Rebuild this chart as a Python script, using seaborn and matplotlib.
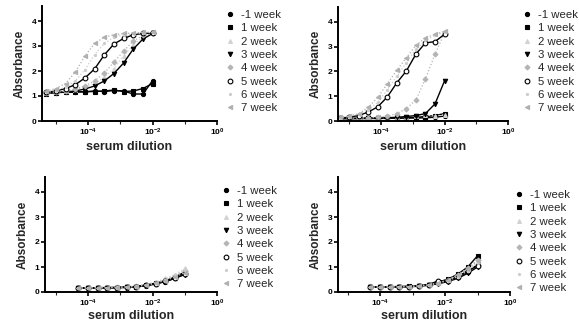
import matplotlib
matplotlib.use("Agg")
import matplotlib.pyplot as plt
from matplotlib.lines import Line2D
from matplotlib.ticker import FixedLocator, LogLocator, NullFormatter
import seaborn as sns

weeks = ["-1 week", "1 week", "2 week", "3 week", "4 week", "5 week", "6 week", "7 week"]

# two-fold serial dilutions
dil_top = [1e-2, 5e-3, 2.5e-3, 1.25e-3, 6.25e-4, 3.125e-4, 1.5625e-4,
           7.8125e-5, 3.906e-5, 1.953e-5, 9.766e-6, 4.883e-6]
dil_bottom = [1e-1, 5e-2, 2.5e-2, 1.25e-2, 6.25e-3, 3.125e-3, 1.5625e-3,
              7.8125e-4, 3.906e-4, 1.953e-4, 9.766e-5, 4.883e-5]

top_left = {
    "-1 week": [1.62, 1.08, 1.08, 1.2, 1.22, 1.18, 1.2, 1.17, 1.16, 1.15, 1.14, 1.12],
    "1 week":  [1.5, 1.3, 1.2, 1.18, 1.24, 1.2, 1.18, 1.17, 1.16, 1.15, 1.14, 1.1],
    "2 week":  [3.5, 3.35, 3.05, 2.6, 2.1, 1.75, 1.5, 1.35, 1.25, 1.2, 1.15, 1.12],
    "3 week":  [3.5, 3.28, 2.88, 2.32, 1.9, 1.6, 1.4, 1.28, 1.2, 1.16, 1.14, 1.12],
    "4 week":  [3.52, 3.42, 3.2, 2.8, 2.35, 1.92, 1.6, 1.4, 1.28, 1.2, 1.15, 1.12],
    "5 week":  [3.52, 3.5, 3.45, 3.3, 3.08, 2.64, 2.08, 1.72, 1.45, 1.3, 1.2, 1.15],
    "6 week":  [3.55, 3.52, 3.5, 3.45, 3.35, 3.1, 2.65, 2.05, 1.6, 1.35, 1.22, 1.15],
    "7 week":  [3.55, 3.55, 3.52, 3.5, 3.45, 3.35, 3.1, 2.6, 1.95, 1.5, 1.3, 1.2],
}
top_right = {
    "-1 week": [0.2, 0.15, 0.13, 0.12, 0.12, 0.11, 0.11, 0.1, 0.1, 0.1, 0.1, 0.1],
    "1 week":  [0.3, 0.22, 0.18, 0.15, 0.13, 0.12, 0.12, 0.11, 0.11, 0.1, 0.1, 0.1],
    "2 week":  [0.25, 0.2, 0.25, 0.2, 0.18, 0.15, 0.13, 0.12, 0.12, 0.11, 0.1, 0.1],
    "3 week":  [1.62, 0.69, 0.3, 0.22, 0.18, 0.15, 0.13, 0.12, 0.12, 0.11, 0.1, 0.1],
    "4 week":  [3.55, 2.7, 1.7, 0.85, 0.5, 0.3, 0.2, 0.15, 0.13, 0.12, 0.11, 0.1],
    "5 week":  [3.5, 3.2, 3.15, 2.7, 2.02, 1.54, 0.97, 0.57, 0.36, 0.22, 0.15, 0.12],
    "6 week":  [3.58, 3.45, 3.25, 2.9, 2.35, 1.8, 1.25, 0.75, 0.45, 0.28, 0.18, 0.14],
    "7 week":  [3.62, 3.5, 3.35, 3.05, 2.55, 2.05, 1.5, 0.95, 0.55, 0.3, 0.2, 0.15],
}
bottom_left = {
    "-1 week": [0.75, 0.55, 0.42, 0.32, 0.25, 0.2, 0.18, 0.17, 0.17, 0.16, 0.16, 0.15],
    "1 week":  [0.8, 0.6, 0.45, 0.35, 0.28, 0.22, 0.2, 0.18, 0.17, 0.17, 0.16, 0.16],
    "2 week":  [0.95, 0.7, 0.55, 0.4, 0.3, 0.24, 0.2, 0.18, 0.18, 0.17, 0.16, 0.16],
    "3 week":  [0.7, 0.55, 0.42, 0.33, 0.26, 0.21, 0.19, 0.18, 0.17, 0.16, 0.16, 0.15],
    "4 week":  [0.85, 0.65, 0.5, 0.38, 0.3, 0.24, 0.2, 0.19, 0.18, 0.17, 0.17, 0.16],
    "5 week":  [0.72, 0.56, 0.44, 0.34, 0.27, 0.22, 0.2, 0.18, 0.18, 0.17, 0.16, 0.16],
    "6 week":  [0.9, 0.68, 0.5, 0.37, 0.28, 0.23, 0.2, 0.19, 0.18, 0.17, 0.17, 0.16],
    "7 week":  [0.78, 0.6, 0.46, 0.35, 0.27, 0.22, 0.2, 0.18, 0.17, 0.17, 0.16, 0.16],
}
bottom_right = {
    "-1 week": [1.1, 0.8, 0.6, 0.45, 0.35, 0.28, 0.24, 0.22, 0.21, 0.2, 0.2, 0.2],
    "1 week":  [1.45, 1.0, 0.72, 0.52, 0.4, 0.3, 0.25, 0.23, 0.22, 0.21, 0.2, 0.2],
    "2 week":  [1.2, 0.9, 0.65, 0.48, 0.36, 0.28, 0.24, 0.22, 0.21, 0.2, 0.2, 0.2],
    "3 week":  [1.0, 0.75, 0.55, 0.42, 0.33, 0.27, 0.23, 0.21, 0.2, 0.2, 0.19, 0.19],
    "4 week":  [1.3, 0.95, 0.7, 0.5, 0.38, 0.3, 0.25, 0.22, 0.21, 0.2, 0.2, 0.2],
    "5 week":  [1.05, 0.85, 0.62, 0.45, 0.45, 0.3, 0.25, 0.22, 0.21, 0.2, 0.2, 0.2],
    "6 week":  [1.15, 0.85, 0.62, 0.46, 0.35, 0.28, 0.24, 0.22, 0.21, 0.2, 0.2, 0.2],
    "7 week":  [1.25, 0.92, 0.68, 0.5, 0.37, 0.29, 0.25, 0.22, 0.21, 0.2, 0.2, 0.2],
}

x_ticks = [1e-4, 1e-2, 1e0]
x_tick_labels = [r"$\mathbf{10^{-4}}$", r"$\mathbf{10^{-2}}$", r"$\mathbf{10^{0}}$"]
y_ticks = [0, 1, 2, 3, 4]

colors = {"-1 week": "black", "1 week": "black", "2 week": "#d2d2d2", "3 week": "black",
          "4 week": "#b4b4b4", "5 week": "black", "6 week": "#cdcdcd", "7 week": "#b0b0b0"}
markers = {"-1 week": "o", "1 week": "s", "2 week": "^", "3 week": "v",
           "4 week": "D", "5 week": "o", "6 week": ".", "7 week": "<"}
msizes = {"-1 week": 3.0, "1 week": 2.8, "2 week": 2.8, "3 week": 3.2,
          "4 week": 2.5, "5 week": 3.4, "6 week": 3.0, "7 week": 3.0}
faces = {w: (colors[w] if w != "5 week" else "white") for w in weeks}
styles = {w: ("-" if colors[w] == "black" else ":") for w in weeks}

sns.set_theme(style="ticks")
plt.rcParams["font.family"] = ["Liberation Sans", "DejaVu Sans"]
plt.rcParams["mathtext.fontset"] = "custom"
plt.rcParams["mathtext.rm"] = "Liberation Sans"
plt.rcParams["mathtext.bf"] = "Liberation Sans:bold"

W, H = 579, 323
fig = plt.figure(figsize=(W / 100, H / 100), dpi=100)
fig.patch.set_facecolor("white")

# (left px, right px, y0 px, px per unit, xlim low exponent, data, x, legend left px, legend top px, xlabel pad)
panels = [
    (42, 217, 121, 25.0, -5.44, top_left, dil_top, 224, 10, 2),
    (338, 508, 121, 24.8, -5.36, top_right, dil_top, 521, 10, 2),
    (45, 217, 292, 25.0, -5.34, bottom_left, dil_bottom, 220, 186, 0.5),
    (338, 510, 292, 25.0, -5.30, bottom_right, dil_bottom, 513, 190, 0.5),
]

for (l, r, y0, ppu, xlo, data, xs, lx, ly, xpad) in panels:
    top_val = 4.6
    ax = fig.add_axes([l / W, 1 - y0 / H, (r - l) / W, top_val * ppu / H])
    ax.set_facecolor("white")
    for w in weeks:
        sns.lineplot(x=xs, y=data[w], ax=ax, color=colors[w], linestyle=styles[w],
                     linewidth=1.0 if colors[w] == "black" else 0.9,
                     marker=markers[w], markersize=msizes[w],
                     markerfacecolor=faces[w], markeredgecolor=colors[w],
                     markeredgewidth=0.8, legend=False)
    ax.set_xscale("log")
    ax.set_xlim(10 ** xlo, 1.0)
    ax.set_ylim(0, top_val)
    ax.xaxis.set_major_locator(FixedLocator(x_ticks))
    ax.set_xticklabels(x_tick_labels)
    ax.xaxis.set_minor_locator(LogLocator(base=10, subs=(1.0,), numticks=20))
    ax.xaxis.set_minor_formatter(NullFormatter())
    ax.set_yticks(y_ticks)
    ax.set_yticklabels([str(v) for v in y_ticks], fontweight="bold")
    for s in ["top", "right"]:
        ax.spines[s].set_visible(False)
    for s in ["left", "bottom"]:
        ax.spines[s].set_linewidth(1.4)
        ax.spines[s].set_color("black")
    ax.tick_params(axis="both", which="major", direction="out", length=3, width=1.2,
                   labelsize=6, pad=1.2, colors="black")
    ax.tick_params(axis="x", which="minor", direction="out", length=1.8, width=0.8)
    ax.set_xlabel("serum dilution", fontsize=9, fontweight="bold", labelpad=xpad)
    ax.set_ylabel("Absorbance", fontsize=8.5, fontweight="bold", labelpad=4)
    ax.grid(False)

    handles = [Line2D([], [], linestyle="none", marker=markers[w], markersize=msizes[w],
                      color=colors[w], markerfacecolor=faces[w],
                      markeredgecolor=colors[w], markeredgewidth=0.8) for w in weeks]
    ax.legend(handles, weeks, loc="upper left", bbox_to_anchor=(lx / W, 1 - ly / H),
              bbox_transform=fig.transFigure, frameon=False, fontsize=8.2,
              handlelength=1.0, handletextpad=0.45, labelspacing=0.29, borderpad=0,
              borderaxespad=0)

fig.savefig("out.png", dpi=100, facecolor="white")
